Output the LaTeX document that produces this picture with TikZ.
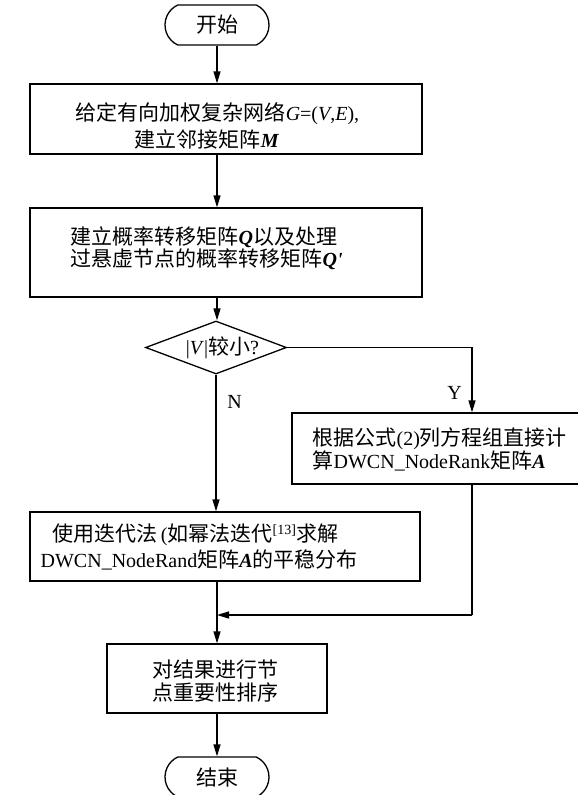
\documentclass[tikz,border=0pt]{standalone}
\usepackage{fontspec}
\setmainfont{Liberation Serif}
\newfontfamily\cjk{Noto Sans CJK SC}[Scale=1.05]
\newcommand\zh[1]{{\cjk #1}}
\newcommand\bi[1]{\textbf{\textit{#1}}}
\usetikzlibrary{arrows.meta,shapes.geometric,shapes.misc}

\begin{document}
\begin{tikzpicture}[x=1pt,y=-1pt,
  line width=1.3pt,
  flow/.style={-{Triangle[length=12pt,width=7pt]}},
  stepbox/.style={draw, rectangle, inner sep=0pt},
  term/.style={draw, rounded rectangle, rounded rectangle arc length=130,
    minimum width=104pt, minimum height=40pt, inner sep=0pt,
    font=\fontsize{20}{24}\selectfont},
  txt/.style={inner sep=0pt, font=\fontsize{20}{#1}\selectfont},
  txt/.default=24,
]
\clip (0,0) rectangle (578,795);

% shapes
\node[term] (start) at (217,25) {\zh{开始}};
\node[stepbox, minimum width=392pt, minimum height=70pt] (b1) at (226,119) {};
\node[stepbox, minimum width=392pt, minimum height=89pt] (b2) at (226,252.5) {};
\node[draw, diamond, minimum width=141pt, minimum height=53pt, inner sep=0pt] (d) at (216,347.5) {};
\node[stepbox, minimum width=288pt, minimum height=71pt] (b3) at (436,448.5) {};
\node[stepbox, minimum width=390pt, minimum height=69pt] (b4) at (225,546.5) {};
\node[stepbox, minimum width=220pt, minimum height=69pt] (b5) at (217,678.5) {};
\node[term] (end) at (217,777) {\zh{结束}};

% texts
\node[txt=27, align=center] (t1) at (217.5,125.5)
  {\zh{给定有向加权复杂网络}\textit{G}=(\textit{V},\textit{E}),\\
   \zh{建立邻接矩阵}\bi{M}\hspace*{21pt}};
\node[txt=22, align=left, anchor=west] (t2) at (70,248)
  {\zh{建立概率转移矩阵}\bi{Q}\zh{以及处理}\\
   \zh{过悬虚节点的概率转移矩阵}\bi{Q\textquotesingle}};
\node[txt] (td) at (222.5,347.5) {|\textit{V}|\zh{较小}?};
\node[txt=22, align=left, anchor=west] (t3) at (312,449)
  {\zh{根据公式}(2)\zh{列方程组直接计}\\
   \zh{算}DWCN\_NodeRank\zh{矩阵}\bi{A}};
\node[txt=26, align=left, anchor=west] (t4) at (40,547)
  {\hspace*{12pt}\zh{使用迭代法}\,(\zh{如幂法迭代}\textsuperscript{[13]}\zh{求解}\\
   DWCN\_NodeRand\zh{矩阵}\bi{A}\zh{的平稳分布}};
\node[txt=23, align=center] (t5) at (215,681.5)
  {\zh{对结果进行节}\\\zh{点重要性排序}};
\node[txt] (nlab) at (234.5,402) {N};
\node[txt] (ylab) at (454.5,393) {Y};

% helper points
\coordinate (ycol) at (472,347.5);
\coordinate (merge) at (217,615);

% connectors
\draw[flow] (start.south) -- (start |- b1.north);
\draw[flow] (start |- b1.south) -- (start |- b2.north);
\draw[flow] (start |- b2.south) -- (start |- d.north);
\draw[flow] (d.south) -- (d.south |- b4.north);
\draw[flow] (d.east) -- (ycol) -- (ycol |- b3.north);
\draw (ycol |- b3.south) -- (ycol |- merge);
\draw[flow] (ycol |- merge) -- (merge);
\draw[flow] (merge |- b4.south) -- (b5.north);
\draw[flow] (b5.south) -- (end.north);
\end{tikzpicture}
\end{document}
